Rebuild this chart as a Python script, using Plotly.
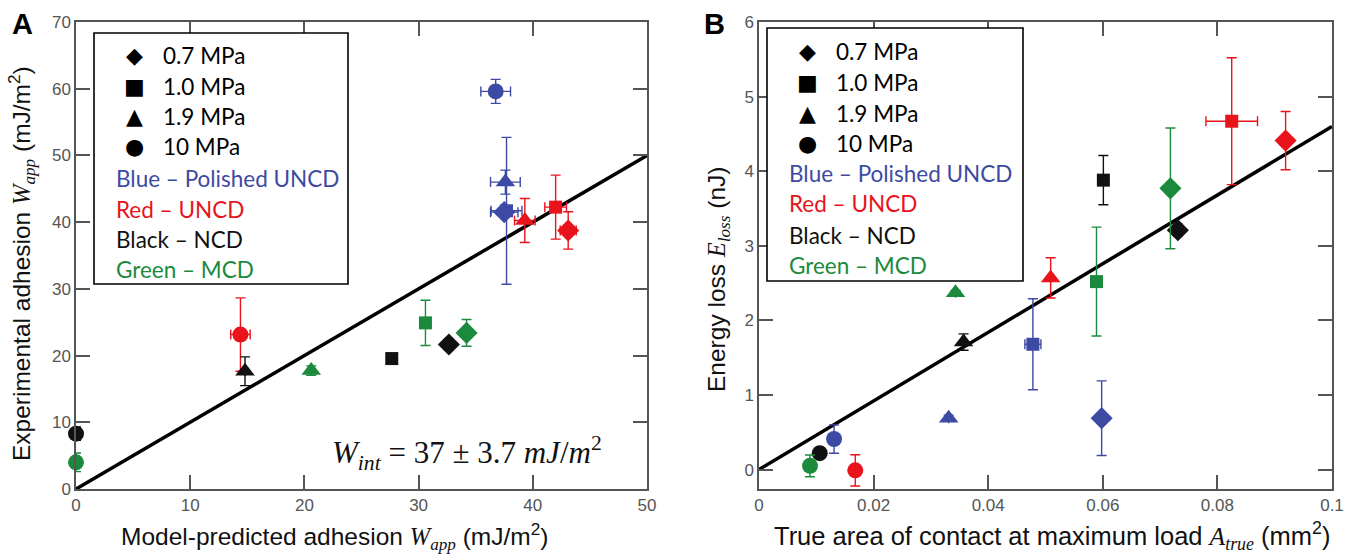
import plotly.graph_objects as go

W, H = 1356, 557

# ---------------- data ----------------
pressures = ["0.7 MPa", "1.0 MPa", "1.9 MPa", "10 MPa"]
materials = ["Polished UNCD", "UNCD", "NCD", "MCD"]
material_labels = ["Blue \u2013 Polished UNCD", "Red \u2013 UNCD", "Black \u2013 NCD", "Green \u2013 MCD"]

# Panel A: model-predicted vs experimental adhesion (mJ/m^2)
A_material = ["Polished UNCD"] * 4 + ["UNCD"] * 4 + ["NCD"] * 4 + ["MCD"] * 4
A_pressure = ["10 MPa", "1.9 MPa", "1.0 MPa", "0.7 MPa"] * 4
A_x = [36.75, 37.6, 37.7, 37.5,
       14.4, 39.3, 42.0, 43.1,
       0.0, 14.8, 27.65, 32.65,
       0.0, 20.6, 30.6, 34.2]
A_y = [59.6, 46.0, 41.7, 41.5,
       23.15, 40.25, 42.25, 38.75,
       8.3, 17.65, 19.55, 21.65,
       4.0, 17.75, 24.9, 23.4]
A_xerr = [1.3, 1.3, 1.35, 1.2,
          0.85, 0.9, 0.95, 0.7,
          0, 0, 0, 0,
          0, 0, 0, 0]
A_yerr = [1.8, 1.8, 11.0, 0.0,
          5.5, 3.3, 4.8, 2.8,
          1.0, 2.15, 0.6, 0.8,
          1.4, 0.7, 3.4, 2.0]
A_fit_x = [0, 50]
A_fit_y = [0, 50]

# Panel B: true contact area (mm^2) vs energy loss (nJ)
B_material = ["Polished UNCD"] * 4 + ["UNCD"] * 4 + ["NCD"] * 4 + ["MCD"] * 4
B_pressure = ["10 MPa", "1.9 MPa", "1.0 MPa", "0.7 MPa"] * 4
B_x = [0.0131, 0.0331, 0.0478, 0.0598,
       0.0168, 0.0509, 0.0825, 0.0919,
       0.0106, 0.0357, 0.0601, 0.0731,
       0.0089, 0.0343, 0.0589, 0.0718]
B_y = [0.41, 0.69, 1.68, 0.69,
       -0.01, 2.57, 4.67, 4.41,
       0.22, 1.71, 3.88, 3.21,
       0.05, 2.37, 2.52, 3.77]
B_xerr = [0, 0, 0.0014, 0,
          0, 0, 0.0045, 0,
          0, 0, 0, 0,
          0, 0, 0, 0]
B_yerr = [0.19, 0.04, 0.61, 0.5,
          0.21, 0.27, 0.85, 0.39,
          0.03, 0.11, 0.33, 0.08,
          0.145, 0.03, 0.73, 0.81]
B_fit_x = [0, 0.1]
B_fit_y = [0, 4.6]

A_xticks = [0, 10, 20, 30, 40, 50]
A_yticks = [0, 10, 20, 30, 40, 50, 60, 70]
B_xticks = [0, 0.02, 0.04, 0.06, 0.08, 0.1]
B_xticklabels = ["0", "0.02", "0.04", "0.06", "0.08", "0.1"]
B_yticks = [0, 1, 2, 3, 4, 5, 6]

# ---------------- styles ----------------
COLORS = {"Polished UNCD": "#3d4aa3", "UNCD": "#e8131b", "NCD": "#111111", "MCD": "#1c8a3c"}
SYMBOLS = {"0.7 MPa": "diamond", "1.0 MPa": "square", "1.9 MPa": "triangle-up", "10 MPa": "circle"}
SIZES = {"0.7 MPa": 17, "1.0 MPa": 13, "1.9 MPa": 17, "10 MPa": 16}
GLYPHS = {"0.7 MPa": "\u25c6", "1.0 MPa": "\u25a0", "1.9 MPa": "\u25b2", "10 MPa": "\u25cf"}


def px(x):
    return x / W


def py(y):
    return 1 - y / H


fig = go.Figure()


def add_points(xs, ys, xe, ye, mats, prs, xa, ya):
    for m in materials:
        for p in pressures:
            idx = [i for i in range(len(xs)) if mats[i] == m and prs[i] == p]
            if not idx:
                continue
            col = COLORS[m]
            fig.add_trace(go.Scatter(
                x=[xs[i] for i in idx], y=[ys[i] for i in idx],
                mode="markers", xaxis=xa, yaxis=ya, showlegend=False,
                cliponaxis=False,
                marker=dict(symbol=SYMBOLS[p], size=SIZES[p], color=col, line=dict(width=0)),
                error_y=dict(type="data", array=[ye[i] for i in idx], color=col, thickness=1.4, width=5),
                error_x=dict(type="data", array=[xe[i] for i in idx], color=col, thickness=1.4, width=5),
                name=f"{m}, {p}",
            ))


# fit lines (drawn first so markers sit on top)
fig.add_trace(go.Scatter(x=A_fit_x, y=A_fit_y, mode="lines", xaxis="x", yaxis="y",
                         line=dict(color="black", width=3.5), showlegend=False, cliponaxis=True))
fig.add_trace(go.Scatter(x=B_fit_x, y=B_fit_y, mode="lines", xaxis="x2", yaxis="y2",
                         line=dict(color="black", width=3.5), showlegend=False, cliponaxis=True))

add_points(A_x, A_y, A_xerr, A_yerr, A_material, A_pressure, "x", "y")
add_points(B_x, B_y, B_xerr, B_yerr, B_material, B_pressure, "x2", "y2")

axis_common = dict(showline=True, linecolor="#555555", linewidth=1.5, mirror="ticks",
                   ticks="inside", ticklen=14, tickwidth=1.5, tickcolor="#555555",
                   showgrid=False, zeroline=False, automargin=False,
                   tickfont=dict(family="Liberation Sans, Arial, sans-serif", size=17, color="#555555"))

ydom = [py(489), py(22)]
fig.update_layout(
    template="none",
    width=W, height=H,
    margin=dict(l=0, r=0, t=0, b=0, pad=0),
    plot_bgcolor="white", paper_bgcolor="white",
    showlegend=False,
    xaxis=dict(domain=[px(76), px(647)], range=[0, 50], tickvals=A_xticks, anchor="y", **axis_common),
    yaxis=dict(domain=ydom, range=[0, 70], tickvals=A_yticks, anchor="x", **axis_common),
    xaxis2=dict(domain=[px(759), px(1332)], range=[0, 0.1], tickvals=B_xticks, ticktext=B_xticklabels,
                anchor="y2", **axis_common),
    yaxis2=dict(domain=ydom, range=[-0.26, 6], tickvals=B_yticks, anchor="x2", **axis_common),
)

ann = []
SERIF = "Liberation Serif, Times New Roman, serif"
SANS = "Liberation Sans, Arial, sans-serif"
LEG = "Lato, Carlito, Calibri, sans-serif"


def pa(x, y, text, font, **kw):
    d = dict(x=px(x), y=py(y), xref="paper", yref="paper", showarrow=False, text=text,
             xanchor="center", yanchor="middle", font=font)
    d.update(kw)
    ann.append(d)


# axis titles
pa(334, 536, f"Model-predicted adhesion <span style='font-family:{SERIF}'><i>W</i><sub><i>app</i></sub></span> (mJ/m<sup>2</sup>)",
   dict(family=SANS, size=24.5, color="#111111"))
pa(21, 264, f"Experimental adhesion <span style='font-family:{SERIF}'><i>W</i><sub><i>app</i></sub></span> (mJ/m<sup>2</sup>)",
   dict(family=SANS, size=24.5, color="#111111"), textangle=-90)
pa(1052, 536, f"True area of contact at maximum load <span style='font-family:{SERIF}'><i>A</i><sub><i>true</i></sub></span> (mm<sup>2</sup>)",
   dict(family=SANS, size=25.5, color="#111111"))
pa(718, 280, f"Energy loss <span style='font-family:{SERIF}'><i>E</i><sub><i>loss</i></sub></span> (nJ)",
   dict(family=SANS, size=24.5, color="#111111"), textangle=-90)

# panel letters
pa(22, 24, "<b>A</b>", dict(family=SANS, size=29, color="black"))
pa(714, 24, "<b>B</b>", dict(family=SANS, size=29, color="black"))

# fit formula
ann.append(dict(x=34.2, y=5.4, xref="x", yref="y", showarrow=False, xanchor="center", yanchor="middle",
                text="<i>W</i><sub><i>int</i></sub> = 37 \u00b1 3.7 <i>mJ</i>/<i>m</i><sup>2</sup>",
                font=dict(family=SERIF, size=31, color="#111111")))

# legends (boxes drawn as shapes, entries as text)
shapes = []


def add_legend(left, top, right, bottom, row_y):
    shapes.append(dict(type="rect", xref="paper", yref="paper", x0=px(left), x1=px(right),
                       y0=py(bottom), y1=py(top), line=dict(color="black", width=1.6),
                       fillcolor="white", layer="above"))
    for k, p in enumerate(pressures):
        pa(left + 40, row_y[k], GLYPHS[p], dict(family="DejaVu Sans", size=22, color="black"))
        pa(left + 67, row_y[k], p, dict(family=LEG, size=22.5, color="black"), xanchor="left")
    for k, m in enumerate(materials):
        pa(left + 20, row_y[4 + k], material_labels[k], dict(family=LEG, size=22.5, color=COLORS[m]),
           xanchor="left")


add_legend(94, 33, 348, 284, [55, 86, 117, 147, 178, 209, 239, 269])
add_legend(767, 28, 1023, 281, [52, 82, 113, 143, 174, 204, 235, 265])

fig.update_layout(annotations=ann, shapes=shapes)
fig.write_html("out.html", config={"displayModeBar": False},
               post_script="document.body.style.margin='0';document.body.style.padding='0';")
